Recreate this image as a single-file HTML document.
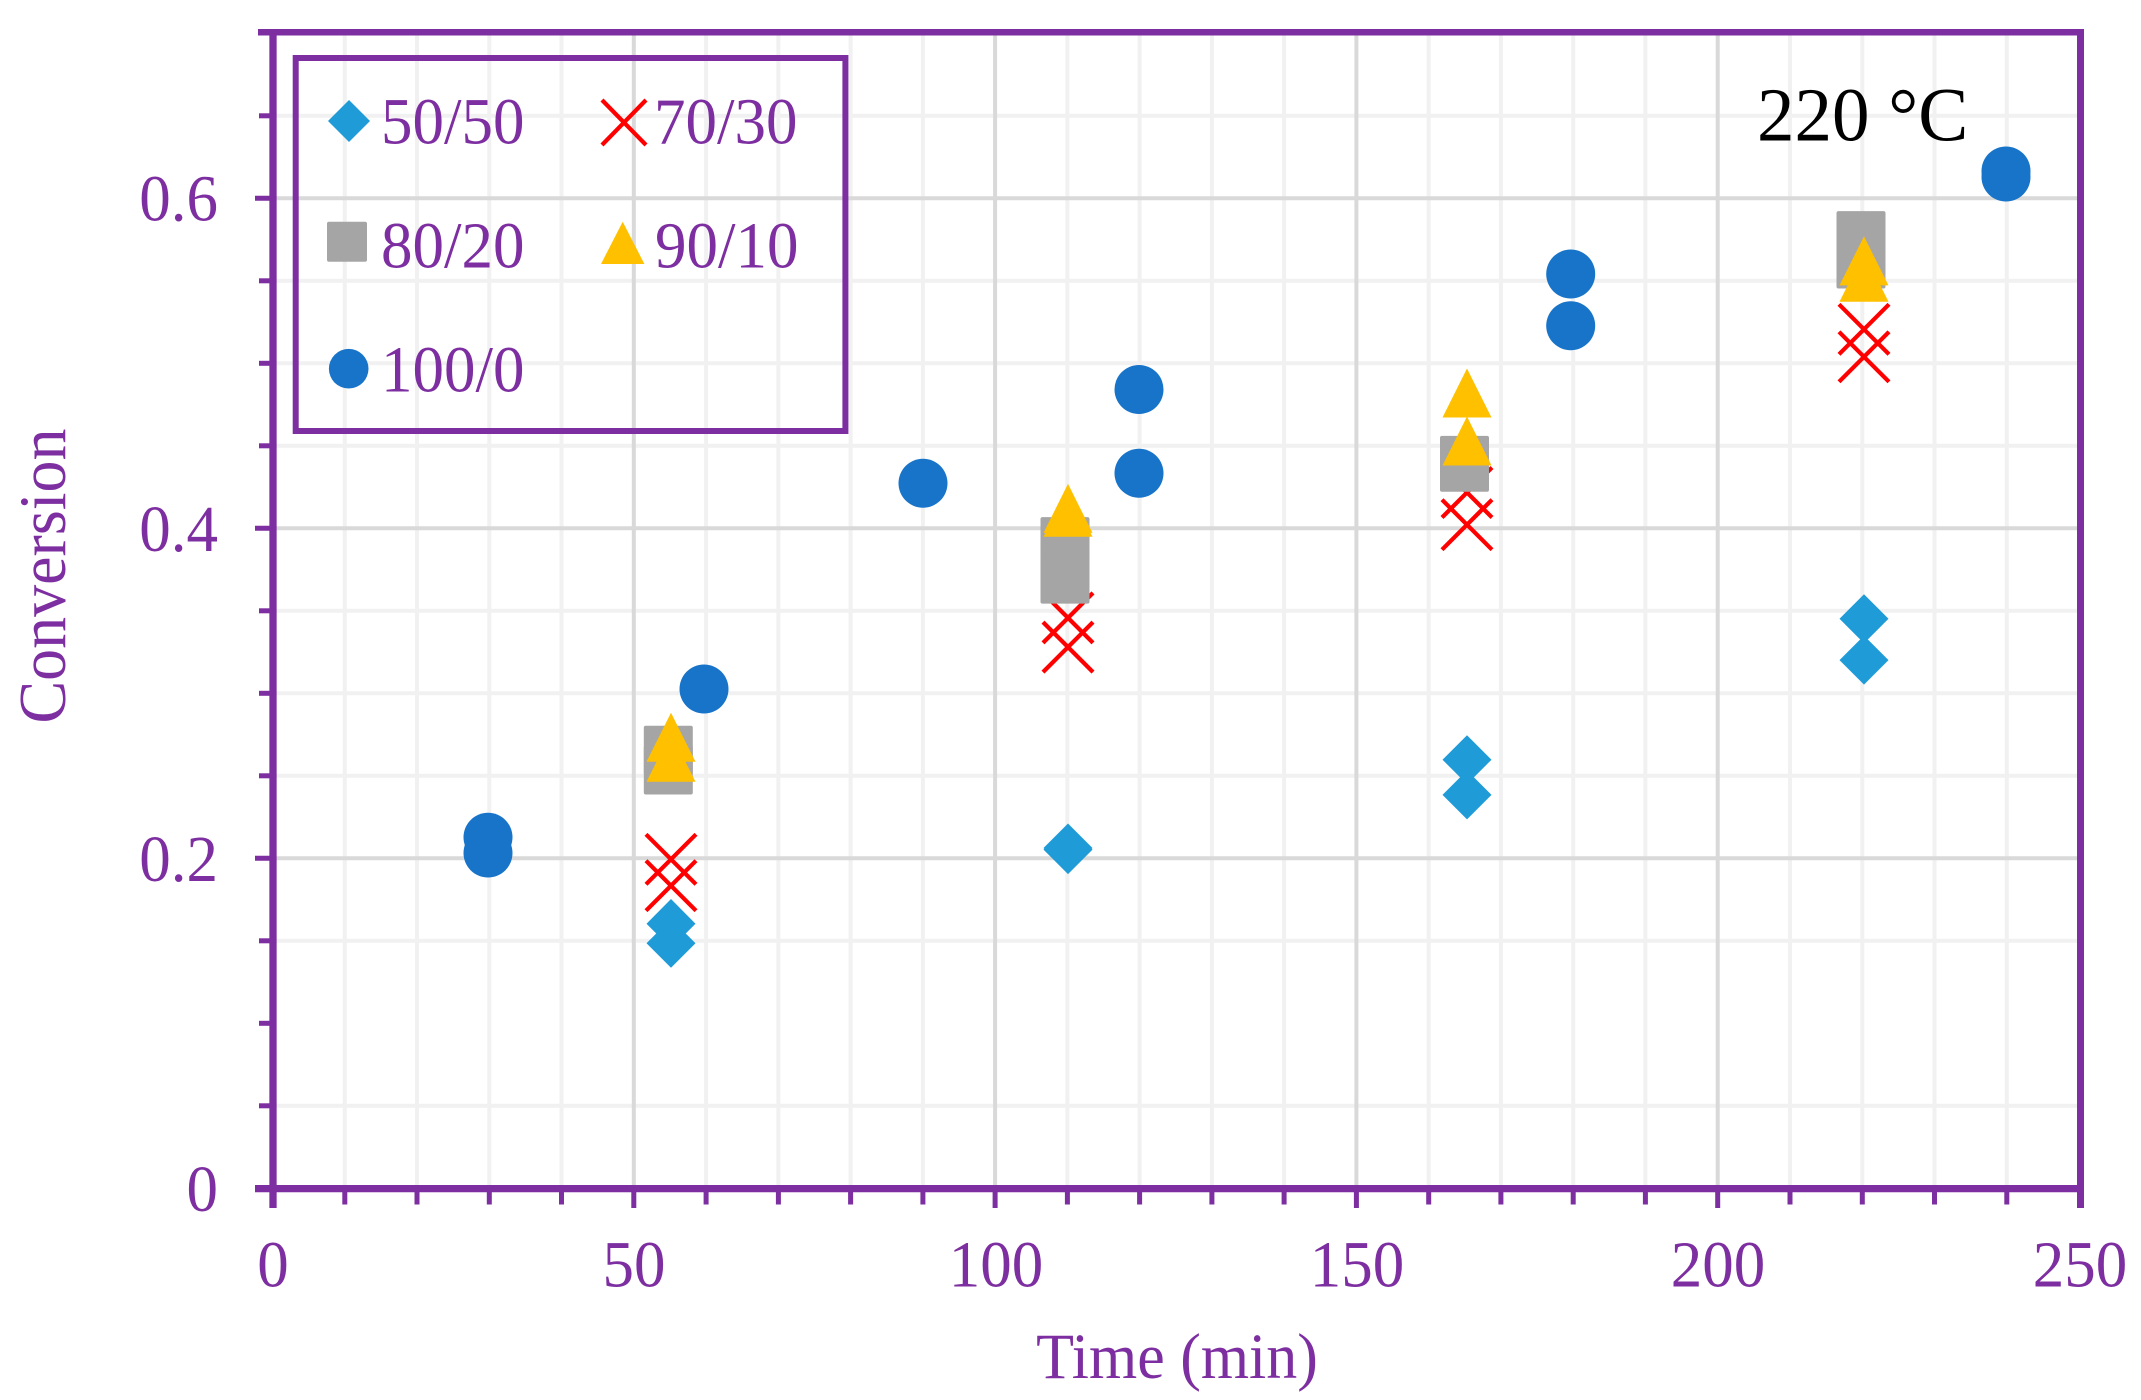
<!DOCTYPE html>
<html>
<head>
<meta charset="utf-8">
<style>
  html, body { margin:0; padding:0; background:#fff; }
  svg { display:block; }
  text { font-family: "Liberation Serif", "Times New Roman", serif; }
</style>
</head>
<body>
<svg width="2141" height="1400" viewBox="0 0 2141 1400" xmlns="http://www.w3.org/2000/svg">
  <rect x="0" y="0" width="2141" height="1400" fill="#ffffff"/>

  <!-- minor gridlines vertical (every 10 min) -->
  <g stroke="#F1F1F1" stroke-width="4">
    <line x1="344.8" y1="33" x2="344.8" y2="1188"/>
    <line x1="417.0" y1="33" x2="417.0" y2="1188"/>
    <line x1="489.3" y1="33" x2="489.3" y2="1188"/>
    <line x1="561.5" y1="33" x2="561.5" y2="1188"/>
    <line x1="706.1" y1="33" x2="706.1" y2="1188"/>
    <line x1="778.4" y1="33" x2="778.4" y2="1188"/>
    <line x1="850.6" y1="33" x2="850.6" y2="1188"/>
    <line x1="922.9" y1="33" x2="922.9" y2="1188"/>
    <line x1="1067.4" y1="33" x2="1067.4" y2="1188"/>
    <line x1="1139.6" y1="33" x2="1139.6" y2="1188"/>
    <line x1="1211.9" y1="33" x2="1211.9" y2="1188"/>
    <line x1="1284.1" y1="33" x2="1284.1" y2="1188"/>
    <line x1="1428.7" y1="33" x2="1428.7" y2="1188"/>
    <line x1="1500.9" y1="33" x2="1500.9" y2="1188"/>
    <line x1="1573.2" y1="33" x2="1573.2" y2="1188"/>
    <line x1="1645.4" y1="33" x2="1645.4" y2="1188"/>
    <line x1="1790.0" y1="33" x2="1790.0" y2="1188"/>
    <line x1="1862.3" y1="33" x2="1862.3" y2="1188"/>
    <line x1="1934.5" y1="33" x2="1934.5" y2="1188"/>
    <line x1="2006.8" y1="33" x2="2006.8" y2="1188"/>
  </g>
  <!-- minor gridlines horizontal (every 0.05) -->
  <g stroke="#F1F1F1" stroke-width="4">
    <line x1="273" y1="1105.8" x2="2080" y2="1105.8"/>
    <line x1="273" y1="940.8" x2="2080" y2="940.8"/>
    <line x1="273" y1="775.8" x2="2080" y2="775.8"/>
    <line x1="273" y1="693.3" x2="2080" y2="693.3"/>
    <line x1="273" y1="610.8" x2="2080" y2="610.8"/>
    <line x1="273" y1="445.8" x2="2080" y2="445.8"/>
    <line x1="273" y1="363.3" x2="2080" y2="363.3"/>
    <line x1="273" y1="280.8" x2="2080" y2="280.8"/>
    <line x1="273" y1="115.8" x2="2080" y2="115.8"/>
  </g>
  <!-- major gridlines -->
  <g stroke="#D9D9D9" stroke-width="4">
    <line x1="633.8" y1="33" x2="633.8" y2="1188"/>
    <line x1="995.1" y1="33" x2="995.1" y2="1188"/>
    <line x1="1356.4" y1="33" x2="1356.4" y2="1188"/>
    <line x1="1717.7" y1="33" x2="1717.7" y2="1188"/>
    <line x1="273" y1="858.3" x2="2080" y2="858.3"/>
    <line x1="273" y1="528.3" x2="2080" y2="528.3"/>
    <line x1="273" y1="198.3" x2="2080" y2="198.3"/>
  </g>

  <!-- 50/50 diamonds -->
  <g fill="#1F9BD8">
    <polygon points="671,899 695.5,923.7 671,948.2 646.5,923.7"/>
    <polygon points="671,918.8 695.5,943.3 671,967.8 646.5,943.3"/>
    <polygon points="1068,825.1 1092.5,849.6 1068,874.1 1043.5,849.6"/>
    <polygon points="1068,823.5 1092.5,848 1068,872.5 1043.5,848"/>
    <polygon points="1467,735.2 1491.5,759.7 1467,784.2 1442.5,759.7"/>
    <polygon points="1467,770.4 1491.5,794.9 1467,819.4 1442.5,794.9"/>
    <polygon points="1864,594.3 1888.5,618.8 1864,643.3 1839.5,618.8"/>
    <polygon points="1864,635.6 1888.5,660.1 1864,684.6 1839.5,660.1"/>
  </g>

  <!-- 70/30 X markers -->
  <g stroke="#FF0000" stroke-width="4.2" fill="none">
    <path d="M646,834.3 L696,884.3 M696,834.3 L646,884.3"/>
    <path d="M646,860.7 L696,910.7 M696,860.7 L646,910.7"/>
    <path d="M1043,592.9 L1093,642.9 M1093,592.9 L1043,642.9"/>
    <path d="M1043,622.1 L1093,672.1 M1093,622.1 L1043,672.1"/>
    <path d="M1442,467.5 L1492,517.5 M1492,467.5 L1442,517.5"/>
    <path d="M1442,499.7 L1492,549.7 M1492,499.7 L1442,549.7"/>
    <path d="M1839,304.3 L1889,354.3 M1889,304.3 L1839,354.3"/>
    <path d="M1839,331.8 L1889,381.8 M1889,331.8 L1839,381.8"/>
  </g>

  <!-- 80/20 squares -->
  <g fill="#A5A5A5">
    <rect x="643.8" y="725.8" width="49" height="49" rx="2"/>
    <rect x="643.8" y="745.5" width="49" height="49" rx="2"/>
    <rect x="1040.5" y="517.1" width="49" height="49" rx="2"/>
    <rect x="1040.5" y="554.6" width="49" height="49" rx="2"/>
    <rect x="1440" y="435.9" width="49" height="49" rx="2"/>
    <rect x="1440" y="442.8" width="49" height="49" rx="2"/>
    <rect x="1836.5" y="211.1" width="49" height="49" rx="2"/>
    <rect x="1836.5" y="239.5" width="49" height="49" rx="2"/>
  </g>

  <!-- 90/10 triangles -->
  <g fill="#FFC000">
    <polygon points="671,712.8 695.5,761.8 646.5,761.8"/>
    <polygon points="671,732.8 695.5,781.8 646.5,781.8"/>
    <polygon points="1068,483.9 1092.5,532.9 1043.5,532.9"/>
    <polygon points="1068,487.8 1092.5,536.8 1043.5,536.8"/>
    <polygon points="1467,368.5 1491.5,417.5 1442.5,417.5"/>
    <polygon points="1467,416.5 1491.5,465.5 1442.5,465.5"/>
    <polygon points="1864,236.4 1888.5,285.4 1839.5,285.4"/>
    <polygon points="1864,252.8 1888.5,301.8 1839.5,301.8"/>
  </g>

  <!-- 100/0 circles -->
  <g fill="#1874C8">
    <circle cx="488" cy="837.3" r="24.5"/>
    <circle cx="488" cy="853" r="24.5"/>
    <circle cx="704" cy="689" r="24.5"/>
    <circle cx="923" cy="483.2" r="24.5"/>
    <circle cx="1139" cy="389.5" r="24.5"/>
    <circle cx="1139" cy="473.2" r="24.5"/>
    <circle cx="1570.7" cy="274" r="24.5"/>
    <circle cx="1570.7" cy="325.7" r="24.5"/>
    <circle cx="2006" cy="171" r="24.5"/>
    <circle cx="2006" cy="177" r="24.5"/>
  </g>

  <!-- Axes / plot border -->
  <g stroke="#7D2EA0" fill="none">
    <line x1="258" y1="32.3" x2="2084" y2="32.3" stroke-width="6.5"/>
    <line x1="2080.5" y1="29" x2="2080.5" y2="1208" stroke-width="7"/>
    <line x1="273" y1="29" x2="273" y2="1208" stroke-width="7.3"/>
    <line x1="255" y1="1188.6" x2="2084" y2="1188.6" stroke-width="7.3"/>
  </g>
  <!-- Y ticks -->
  <g stroke="#7D2EA0" stroke-width="5">
    <line x1="255" y1="1188.3" x2="273" y2="1188.3"/>
    <line x1="259" y1="1105.8" x2="273" y2="1105.8"/>
    <line x1="259" y1="1023.3" x2="273" y2="1023.3"/>
    <line x1="259" y1="940.8" x2="273" y2="940.8"/>
    <line x1="255" y1="858.3" x2="273" y2="858.3"/>
    <line x1="259" y1="775.8" x2="273" y2="775.8"/>
    <line x1="259" y1="693.3" x2="273" y2="693.3"/>
    <line x1="259" y1="610.8" x2="273" y2="610.8"/>
    <line x1="255" y1="528.3" x2="273" y2="528.3"/>
    <line x1="259" y1="445.8" x2="273" y2="445.8"/>
    <line x1="259" y1="363.3" x2="273" y2="363.3"/>
    <line x1="259" y1="280.8" x2="273" y2="280.8"/>
    <line x1="255" y1="198.3" x2="273" y2="198.3"/>
    <line x1="259" y1="115.8" x2="273" y2="115.8"/>
  </g>
  <!-- X ticks -->
  <g stroke="#7D2EA0" stroke-width="5">
    <line x1="273" y1="1188" x2="273" y2="1208"/>
    <line x1="344.8" y1="1188" x2="344.8" y2="1204.5"/>
    <line x1="417.0" y1="1188" x2="417.0" y2="1204.5"/>
    <line x1="489.3" y1="1188" x2="489.3" y2="1204.5"/>
    <line x1="561.5" y1="1188" x2="561.5" y2="1204.5"/>
    <line x1="633.8" y1="1188" x2="633.8" y2="1208"/>
    <line x1="706.1" y1="1188" x2="706.1" y2="1204.5"/>
    <line x1="778.4" y1="1188" x2="778.4" y2="1204.5"/>
    <line x1="850.6" y1="1188" x2="850.6" y2="1204.5"/>
    <line x1="922.9" y1="1188" x2="922.9" y2="1204.5"/>
    <line x1="995.1" y1="1188" x2="995.1" y2="1208"/>
    <line x1="1067.4" y1="1188" x2="1067.4" y2="1204.5"/>
    <line x1="1139.6" y1="1188" x2="1139.6" y2="1204.5"/>
    <line x1="1211.9" y1="1188" x2="1211.9" y2="1204.5"/>
    <line x1="1284.1" y1="1188" x2="1284.1" y2="1204.5"/>
    <line x1="1356.4" y1="1188" x2="1356.4" y2="1208"/>
    <line x1="1428.7" y1="1188" x2="1428.7" y2="1204.5"/>
    <line x1="1500.9" y1="1188" x2="1500.9" y2="1204.5"/>
    <line x1="1573.2" y1="1188" x2="1573.2" y2="1204.5"/>
    <line x1="1645.4" y1="1188" x2="1645.4" y2="1204.5"/>
    <line x1="1717.7" y1="1188" x2="1717.7" y2="1208"/>
    <line x1="1790.0" y1="1188" x2="1790.0" y2="1204.5"/>
    <line x1="1862.3" y1="1188" x2="1862.3" y2="1204.5"/>
    <line x1="1934.5" y1="1188" x2="1934.5" y2="1204.5"/>
    <line x1="2006.8" y1="1188" x2="2006.8" y2="1204.5"/>
    <line x1="2080.5" y1="1188" x2="2080.5" y2="1208"/>
  </g>

  <!-- Y tick labels -->
  <g fill="#7D2EA0" font-size="63" text-anchor="end">
    <text transform="translate(218,1211.2) scale(1,1.04)">0</text>
    <text transform="translate(218,881.2) scale(1,1.04)">0.2</text>
    <text transform="translate(218,550.8) scale(1,1.04)">0.4</text>
    <text transform="translate(218,220.5) scale(1,1.04)">0.6</text>
  </g>
  <!-- X tick labels -->
  <g fill="#7D2EA0" font-size="63" text-anchor="middle">
    <text transform="translate(273,1286.5) scale(1,1.04)">0</text>
    <text transform="translate(634,1286.5) scale(1,1.04)">50</text>
    <text transform="translate(996,1286.5) scale(1,1.04)">100</text>
    <text transform="translate(1357,1286.5) scale(1,1.04)">150</text>
    <text transform="translate(1718,1286.5) scale(1,1.04)">200</text>
    <text transform="translate(2080,1286.5) scale(1,1.04)">250</text>
  </g>

  <!-- Axis titles -->
  <text fill="#7D2EA0" font-size="62" text-anchor="middle" transform="translate(1177,1378) scale(1,1.05)">Time (min)</text>
  <text fill="#7D2EA0" font-size="64" text-anchor="middle" transform="translate(65,576) rotate(-90) scale(1,1.05)">Conversion</text>

  <!-- Annotation -->
  <text fill="#000000" font-size="75" transform="translate(1757,140.7) scale(1,1.02)">220 °C</text>

  <!-- Legend -->
  <rect x="295.7" y="58" width="549.7" height="373" fill="none" stroke="#7D2EA0" stroke-width="6"/>
  <polygon points="349,100 370,121 349,142 328,121" fill="#1F9BD8"/>
  <path d="M602,100 L646,145 M646,100 L602,145" stroke="#FF0000" stroke-width="4.2" fill="none"/>
  <rect x="327" y="221.7" width="40" height="40" rx="2" fill="#A5A5A5"/>
  <polygon points="622.7,221.7 644.4,264 601,264" fill="#FFC000"/>
  <circle cx="348.7" cy="368.7" r="19.8" fill="#1874C8"/>
  <g fill="#7D2EA0" font-size="63">
    <text transform="translate(381,143.3) scale(1,1.04)">50/50</text>
    <text transform="translate(654,143.3) scale(1,1.04)">70/30</text>
    <text transform="translate(381,267.3) scale(1,1.04)">80/20</text>
    <text transform="translate(655,267.3) scale(1,1.04)">90/10</text>
    <text transform="translate(381,391.7) scale(1,1.04)">100/0</text>
  </g>
</svg>
</body>
</html>
